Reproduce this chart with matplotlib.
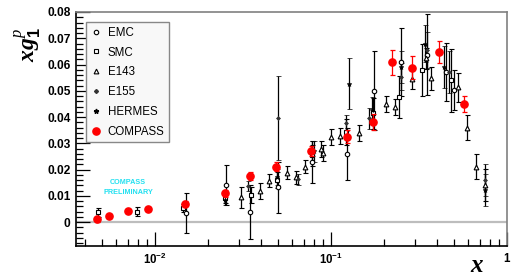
import matplotlib
matplotlib.use("Agg")
import matplotlib.pyplot as plt
from matplotlib.ticker import FixedLocator, FixedFormatter, NullFormatter
from matplotlib.lines import Line2D
import numpy as np

plt.rcParams['mathtext.fontset'] = 'custom'
plt.rcParams['mathtext.bf'] = 'Liberation Serif:bold:italic'
plt.rcParams['mathtext.it'] = 'Liberation Serif:italic'
plt.rcParams['mathtext.rm'] = 'Liberation Sans:bold'
plt.rcParams['mathtext.sf'] = 'Liberation Sans:bold'

# ---- data ----
emc_x = [0.015, 0.0253, 0.0348, 0.0498, 0.078, 0.123, 0.175, 0.25, 0.35, 0.449, 0.50]
emc_y = [0.0035, 0.0141, 0.0037, 0.0132, 0.0227, 0.026, 0.050, 0.061, 0.0638, 0.0573, 0.0503]
emc_e = [0.0075, 0.0076, 0.0103, 0.0097, 0.008, 0.010, 0.015, 0.013, 0.0154, 0.011, 0.0076]

smc_x = [0.00475, 0.0079, 0.0144, 0.0250, 0.0350, 0.049, 0.078, 0.121, 0.172, 0.243, 0.33, 0.48]
smc_y = [0.0037, 0.0039, 0.0055, 0.0093, 0.0103, 0.0160, 0.0255, 0.0344, 0.0414, 0.0477, 0.0579, 0.0541]
smc_e = [0.0017, 0.0017, 0.0015, 0.0020, 0.0030, 0.0030, 0.0040, 0.0050, 0.0060, 0.0080, 0.0100, 0.0120]

e143_x = [0.0309, 0.0393, 0.0442, 0.0562, 0.0636, 0.071, 0.088, 0.090, 0.100, 0.113, 0.144,
          0.204, 0.230, 0.290, 0.345, 0.372, 0.524, 0.592, 0.665, 0.75]
e143_y = [0.0094, 0.0119, 0.0157, 0.0188, 0.0170, 0.0211, 0.0277, 0.0264, 0.0325, 0.0329, 0.0338,
          0.0450, 0.0439, 0.0545, 0.0623, 0.0547, 0.0513, 0.0359, 0.0211, 0.0141]
e143_e = [0.0040, 0.0030, 0.0025, 0.0025, 0.0025, 0.0025, 0.0030, 0.0030, 0.0030, 0.0030, 0.0030,
          0.0030, 0.0030, 0.0040, 0.0040, 0.0044, 0.0055, 0.0048, 0.0048, 0.0060]

e155_x = [0.0336, 0.0501, 0.0645, 0.078, 0.122, 0.164, 0.25, 0.35, 0.47, 0.75]
e155_y = [0.0137, 0.0395, 0.0163, 0.0280, 0.0376, 0.0395, 0.0554, 0.0655, 0.0570, 0.0160]
e155_e = [0.0020, 0.0160, 0.0020, 0.0030, 0.0030, 0.0040, 0.0050, 0.0070, 0.0080, 0.0060]

hermes_x = [0.025, 0.049, 0.080, 0.126, 0.170, 0.25, 0.34, 0.44, 0.75]
hermes_y = [0.0085, 0.0173, 0.0270, 0.0527, 0.0427, 0.0590, 0.0680, 0.0592, 0.0122]
hermes_e = [0.0020, 0.0030, 0.0040, 0.0097, 0.0050, 0.0060, 0.0070, 0.0080, 0.0060]

compass_x = [0.0047, 0.0055, 0.0070, 0.0091, 0.0148, 0.0248, 0.0348, 0.0489, 0.0771, 0.1225,
             0.172, 0.222, 0.290, 0.408, 0.567]
compass_y = [0.0010, 0.0023, 0.0043, 0.0048, 0.0070, 0.0109, 0.0177, 0.0211, 0.0270, 0.0325,
             0.0381, 0.0608, 0.0588, 0.0646, 0.0451]
compass_e = [0.0010, 0.0008, 0.0006, 0.0006, 0.0010, 0.0012, 0.0015, 0.0016, 0.0020, 0.0025,
             0.0030, 0.0048, 0.0044, 0.0042, 0.0030]

ytick_vals = [0, 0.01, 0.02, 0.03, 0.04, 0.05, 0.06, 0.07, 0.08]
ytick_labels = ['0', '0.01', '0.02', '0.03', '0.04', '0.05', '0.06', '0.07', '0.08']
xtick_vals = [0.01, 0.1, 1.0]
xtick_labels = [r'$\mathsf{10^{-2}}$', r'$\mathsf{10^{-1}}$', r'$\mathsf{1}$']

fig = plt.figure(figsize=(5.11, 2.77), dpi=100)
ax = fig.add_axes([76/511, 1-246/277, 431/511, 234/277])
ax.set_xscale('log')
ax.set_xlim(0.00355, 1.0)
ax.set_ylim(-0.0091, 0.08)

ax.axhline(0, color='#bdbdbd', lw=1.6, zorder=0)

ekw = dict(ecolor='black', elinewidth=0.9, capsize=1.8, capthick=0.9, linestyle='none')
ax.errorbar(emc_x, emc_y, yerr=emc_e, marker='o', ms=3.2, mfc='white', mec='black', mew=0.8, **ekw)
ax.errorbar(smc_x, smc_y, yerr=smc_e, marker='s', ms=3.2, mfc='white', mec='black', mew=0.8, **ekw)
ax.errorbar(e143_x, e143_y, yerr=e143_e, marker='^', ms=3.4, mfc='white', mec='black', mew=0.8, **ekw)
ax.errorbar(e155_x, e155_y, yerr=e155_e, marker='D', ms=2.0, mfc='#333333', mec='#333333', mew=0.5, **ekw)
ax.errorbar(hermes_x, hermes_y, yerr=hermes_e, marker='*', ms=3.5, mfc='black', mec='black', mew=0.5, **ekw)
ax.errorbar(compass_x, compass_y, yerr=compass_e, marker='o', ms=5.2, mfc='red', mec='red',
            ecolor='red', elinewidth=0.9, capsize=1.8, capthick=0.9, linestyle='none', zorder=5)

# axes styling
ax.yaxis.set_major_locator(FixedLocator(ytick_vals))
ax.yaxis.set_major_formatter(FixedFormatter(ytick_labels))
ax.yaxis.set_minor_locator(FixedLocator(np.arange(-0.008, 0.0801, 0.002)))
ax.xaxis.set_major_locator(FixedLocator(xtick_vals))
ax.xaxis.set_major_formatter(FixedFormatter(xtick_labels))
minors = [m * 10.0**e for e in (-3, -2, -1) for m in range(2, 10)]
ax.xaxis.set_minor_locator(FixedLocator(minors))
ax.xaxis.set_minor_formatter(NullFormatter())
ax.tick_params(which='both', direction='in', top=False, right=False, color='black', width=0.9)
ax.tick_params(which='major', length=10)
ax.tick_params(which='minor', length=5)
ax.tick_params(axis='y', labelsize=8.6, pad=4)
ax.tick_params(axis='x', labelsize=8.3, pad=4)
for lab in ax.get_yticklabels():
    lab.set_fontfamily('Liberation Sans')
    lab.set_fontweight('bold')
for s in ['left', 'bottom']:
    ax.spines[s].set_color('black')
    ax.spines[s].set_linewidth(1.2)
for s in ['top', 'right']:
    ax.spines[s].set_color('#808080')
    ax.spines[s].set_linewidth(1.2)

# legend
handles = [
    Line2D([], [], marker='o', ms=3.2, mfc='white', mec='black', mew=0.8, ls='none'),
    Line2D([], [], marker='s', ms=3.2, mfc='white', mec='black', mew=0.8, ls='none'),
    Line2D([], [], marker='^', ms=3.4, mfc='white', mec='black', mew=0.8, ls='none'),
    Line2D([], [], marker='D', ms=2.0, mfc='#333333', mec='#333333', ls='none'),
    Line2D([], [], marker='*', ms=3.5, mfc='black', mec='black', ls='none'),
    Line2D([], [], marker='o', ms=5.2, mfc='red', mec='red', ls='none'),
]
labels = ['EMC', 'SMC', 'E143', 'E155', 'HERMES', 'COMPASS']
leg = ax.legend(handles, labels, loc='upper left', bbox_to_anchor=(0.023, 0.957),
                prop={'family': 'Liberation Sans', 'size': 8.3}, labelspacing=0.68,
                handlelength=1.0, handletextpad=0.5, borderpad=0.4, borderaxespad=0,
                frameon=True, fancybox=False)
leg.get_frame().set_edgecolor('#888888')
leg.get_frame().set_facecolor('#f8f8f8')
leg.get_frame().set_linewidth(1.0)
leg.get_frame().set_alpha(1)

fig.text(128/511, 1-183/277, 'COMPASS', color='#22e0f0', fontsize=5.2, fontweight='bold',
         family='Liberation Sans', ha='center', va='center')
fig.text(128/511, 1-193/277, 'PRELIMINARY', color='#22e0f0', fontsize=5.2, fontweight='bold',
         family='Liberation Sans', ha='center', va='center')

fig.text(28/511, 1-45/277, r'$\mathbf{xg}_{\mathit{1}}^{\mathit{p}}$', rotation=90,
         fontsize=17, ha='center', va='center')
fig.text(477/511, 1-265/277, r'$\mathbf{x}$', fontsize=18, ha='center', va='center')

fig.savefig('out.png', dpi=100)
